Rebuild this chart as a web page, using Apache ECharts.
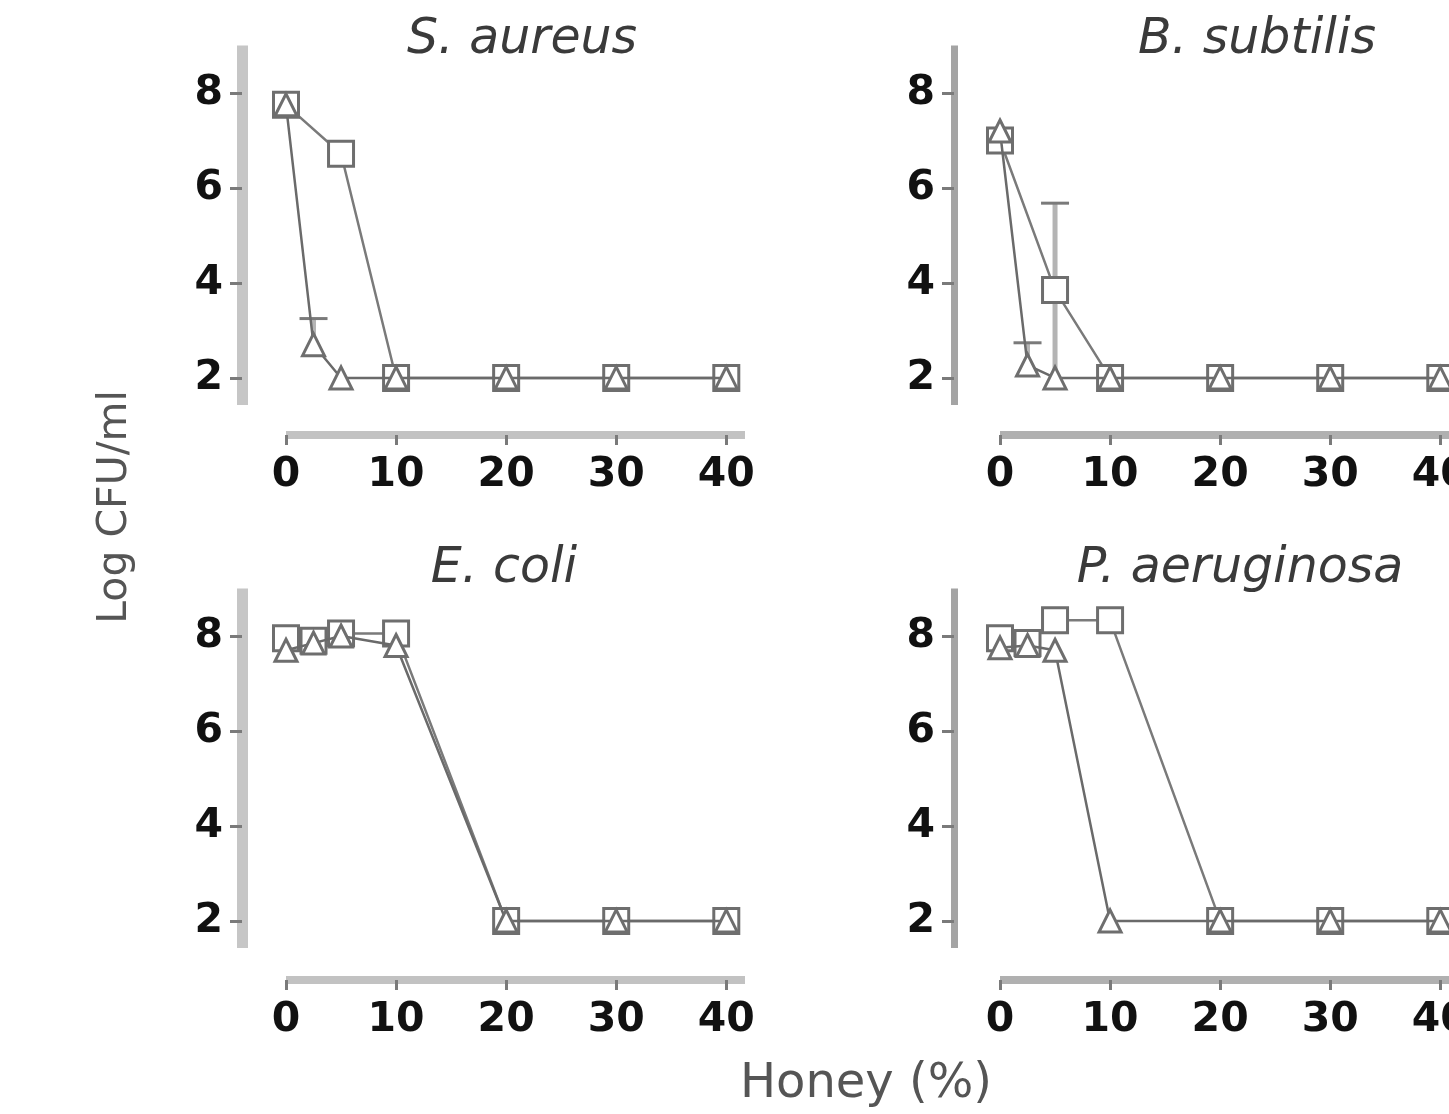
<!DOCTYPE html>
<html>
<head>
<meta charset="utf-8">
<style>
  html, body { margin: 0; padding: 0; background: #fff; }
  #chart { width: 1449px; height: 1114px; }
</style>
<script src="https://cdn.jsdelivr.net/npm/echarts@6/dist/echarts.min.js"></script>
</head>
<body>
<div id="chart"></div>
<script>
// ---- data ----
const panelTitles = ['S. aureus', 'B. subtilis', 'E. coli', 'P. aeruginosa'];
const xTicks = [0, 10, 20, 30, 40];
const yTicks = [2, 4, 6, 8];

// S. aureus
const saSquareX = [0, 5, 10, 20, 30, 40];
const saSquareY = [7.75, 6.72, 2, 2, 2, 2];
const saTriX = [0, 2.5, 5, 10, 20, 30, 40];
const saTriY = [7.75, 2.7, 2, 2, 2, 2, 2];
const saErr = [[2.5, 2.7, 3.25, 2.7]]; // x, mean, upper, lower

// B. subtilis
const bsSquareX = [0, 5, 10, 20, 30, 40];
const bsSquareY = [7.0, 3.85, 2, 2, 2, 2];
const bsTriX = [0, 2.5, 5, 10, 20, 30, 40];
const bsTriY = [7.2, 2.27, 2, 2, 2, 2, 2];
const bsErr = [[2.5, 2.27, 2.74, 2.27], [5, 3.85, 5.68, 2.0]];

// E. coli
const ecSquareX = [0, 2.5, 5, 10, 20, 30, 40];
const ecSquareY = [7.95, 7.9, 8.05, 8.05, 2, 2, 2];
const ecTriX = [0, 2.5, 5, 10, 20, 30, 40];
const ecTriY = [7.7, 7.85, 8.0, 7.8, 2, 2, 2];
const ecErr = [];

// P. aeruginosa
const paSquareX = [0, 2.5, 5, 10, 20, 30, 40];
const paSquareY = [7.95, 7.85, 8.33, 8.33, 2, 2, 2];
const paTriX = [0, 2.5, 5, 10, 20, 30, 40];
const paTriY = [7.75, 7.8, 7.7, 2, 2, 2, 2];
const paErr = [];

const xAxisTitle = 'Honey (%)';
const yAxisTitle = 'Log CFU/ml';

// ---- layout ----
const zip = (xs, ys) => xs.map((x, i) => [x, ys[i]]);
const panels = [
  { sqX: saSquareX, sqY: saSquareY, trX: saTriX, trY: saTriY, err: saErr,
    left: 286, top: 45.5, yOff: 44, xOff: 30, yCol: '#c6c6c6', yW: 11, xCol: '#c2c2c2', xW: 8,
    tx: 517, ty: 11 },
  { sqX: bsSquareX, sqY: bsSquareY, trX: bsTriX, trY: bsTriY, err: bsErr,
    left: 1000, top: 45.5, yOff: 46, xOff: 30, yCol: '#a4a4a4', yW: 7, xCol: '#b0b0b0', xW: 8,
    tx: 1252, ty: 11 },
  { sqX: ecSquareX, sqY: ecSquareY, trX: ecTriX, trY: ecTriY, err: ecErr,
    left: 286, top: 588.5, yOff: 44, xOff: 32, yCol: '#c6c6c6', yW: 11, xCol: '#c2c2c2', xW: 8,
    tx: 499, ty: 540 },
  { sqX: paSquareX, sqY: paSquareY, trX: paTriX, trY: paTriY, err: paErr,
    left: 1000, top: 588.5, yOff: 46, xOff: 32, yCol: '#a4a4a4', yW: 7, xCol: '#b0b0b0', xW: 8,
    tx: 1235, ty: 540 }
];

const grids = [], xAxes = [], yAxes = [], series = [], titles = [];
const FONT = 'DejaVu Sans';

panels.forEach((p, i) => {
  grids.push({ left: p.left, top: p.top, width: 459, height: 359.5,
    containLabel: false, outerBoundsMode: 'none' });
  xAxes.push({
    type: 'value', gridIndex: i, min: 0, max: 41.7, interval: 10, offset: p.xOff,
    axisLine: { show: true, onZero: false, lineStyle: { color: p.xCol, width: p.xW, cap: 'butt' } },
    axisTick: { show: true, customValues: xTicks, length: 10, lineStyle: { color: '#7a7a7a', width: 3 } },
    axisLabel: { customValues: xTicks, margin: 20, color: '#111', fontFamily: FONT, fontWeight: 'bold', fontSize: 41,
      showMinLabel: true, showMaxLabel: true },
    splitLine: { show: false }
  });
  yAxes.push({
    type: 'value', gridIndex: i, min: 1.43, max: 9.0, offset: p.yOff,
    axisLine: { show: true, onZero: false, lineStyle: { color: p.yCol, width: p.yW, cap: 'butt' } },
    axisTick: { show: true, customValues: yTicks, length: 12, lineStyle: { color: '#7a7a7a', width: 3 } },
    axisLabel: { customValues: yTicks, margin: 19, color: '#111', fontFamily: FONT, fontWeight: 'bold', fontSize: 41 },
    splitLine: { show: false }
  });
  titles.push({ text: panelTitles[i], left: p.tx, top: p.ty, textAlign: 'center',
    textStyle: { fontFamily: FONT, fontStyle: 'italic', fontWeight: 'normal', fontSize: 49, color: '#3a3a3a' } });

  series.push({
    type: 'custom', xAxisIndex: i, yAxisIndex: i, z: 1,
    data: p.err, encode: { x: 0, y: [2, 3] }, clip: false,
    renderItem: function (params, api) {
      const x = api.value(0), up = api.value(2), lo = api.value(3);
      const pu = api.coord([x, up]);
      const pl = api.coord([x, lo]);
      return { type: 'group', children: [
        { type: 'line', shape: { x1: pl[0], y1: pl[1], x2: pu[0], y2: pu[1] },
          style: { stroke: '#b4b4b4', lineWidth: 5 } },
        { type: 'line', shape: { x1: pu[0] - 14, y1: pu[1], x2: pu[0] + 14, y2: pu[1] },
          style: { stroke: '#7a7a7a', lineWidth: 3 } }
      ]};
    }
  });
  series.push({
    type: 'line', xAxisIndex: i, yAxisIndex: i, z: 2, clip: false,
    data: zip(p.sqX, p.sqY), symbol: 'rect', symbolSize: 25, showAllSymbol: true,
    lineStyle: { color: '#7a7a7a', width: 2.5 },
    itemStyle: { color: '#fff', borderColor: '#6e6e6e', borderWidth: 3 },
    emphasis: { disabled: true }, animation: false
  });
  series.push({
    type: 'line', xAxisIndex: i, yAxisIndex: i, z: 3, clip: false,
    data: zip(p.trX, p.trY), symbol: 'triangle', symbolSize: 22, showAllSymbol: true,
    lineStyle: { color: '#6a6a6a', width: 2.5 },
    itemStyle: { color: '#fff', borderColor: '#6e6e6e', borderWidth: 3 },
    emphasis: { disabled: true }, animation: false
  });
});

const chart = echarts.init(document.getElementById('chart'), null, { renderer: 'canvas' });
chart.setOption({
  animation: false,
  backgroundColor: '#fff',
  title: titles,
  grid: grids,
  xAxis: xAxes,
  yAxis: yAxes,
  series: series,
  graphic: [
    { type: 'text', x: 115, y: 507, rotation: Math.PI / 2,
      style: { text: yAxisTitle, fontFamily: FONT, fontSize: 41, fill: '#555', align: 'center', verticalAlign: 'middle' } },
    { type: 'text', x: 866, y: 1085,
      style: { text: xAxisTitle, fontFamily: FONT, fontSize: 48, fill: '#555', align: 'center', verticalAlign: 'middle' } }
  ]
});
</script>
</body>
</html>
